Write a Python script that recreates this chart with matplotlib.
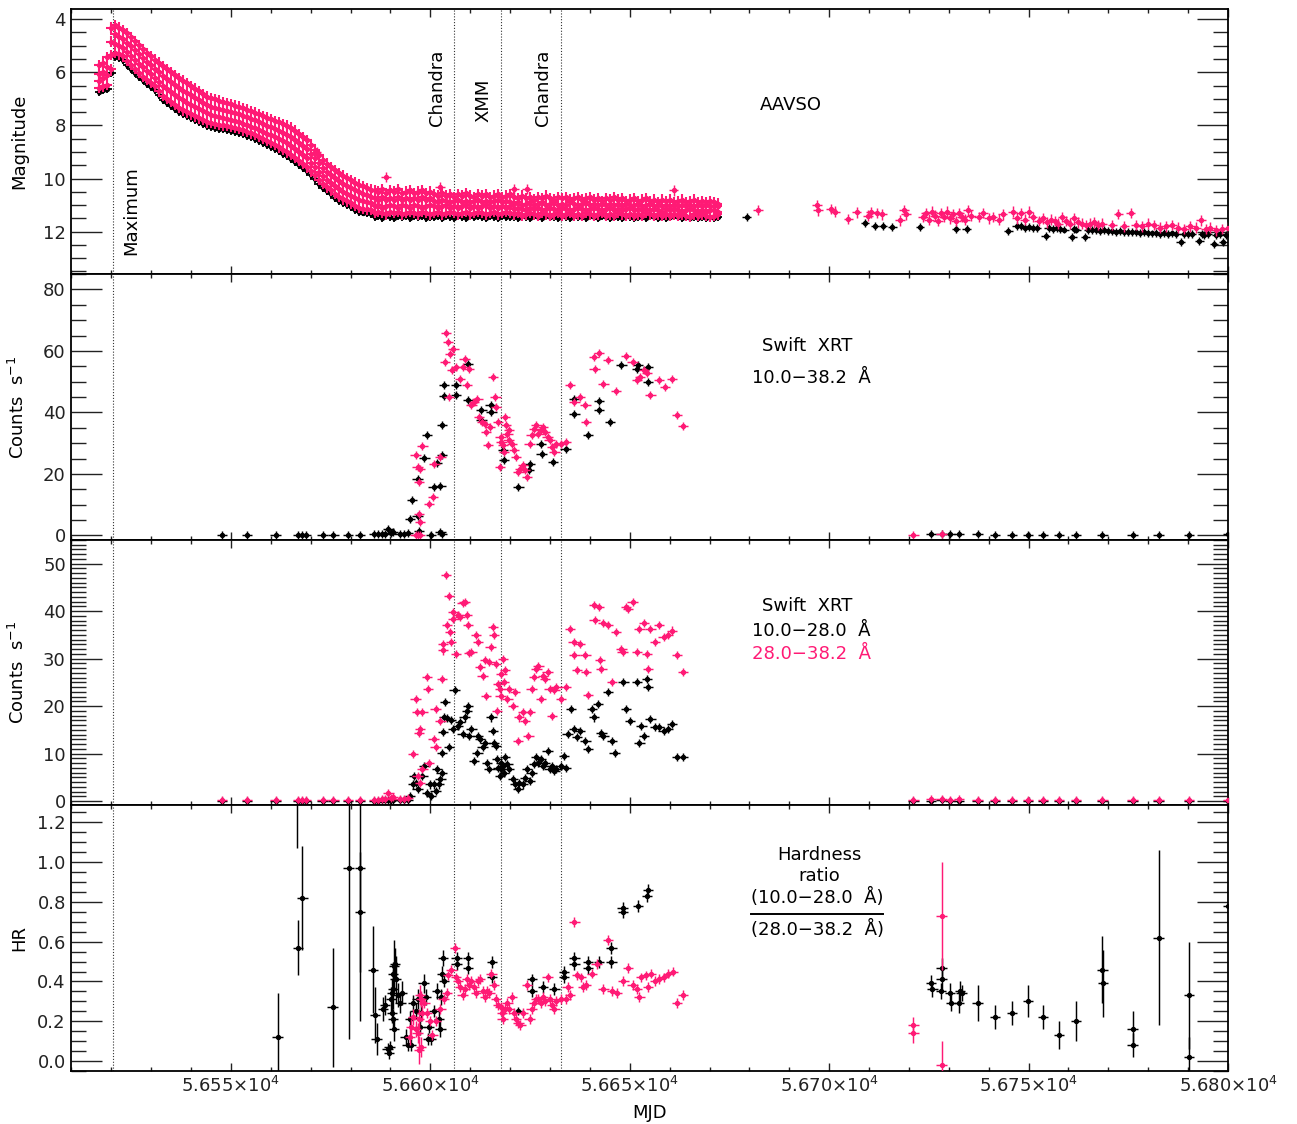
import numpy as np
import matplotlib
matplotlib.use("Agg")
import matplotlib.pyplot as plt
from matplotlib.ticker import MultipleLocator, FuncFormatter, FormatStrFormatter

PINK = "#ff1a75"
BLACK = "#000000"

# ---------------------------------------------------------------- epochs
t_maximum = 56520.5
t_chandra = [56606.0, 56632.7]
t_xmm = 56617.7

# ---------------------------------------------------------------- AAVSO (nightly, dense part)
aavso_mjd = [
    56517, 56518, 56519, 56520, 56521, 56522, 56523, 56524, 56525, 56526,
    56527, 56528, 56529, 56530, 56531, 56532, 56533, 56534, 56535, 56536,
    56537, 56538, 56539, 56540, 56541, 56542, 56543, 56544, 56545, 56546,
    56547, 56548, 56549, 56550, 56551, 56552, 56553, 56554, 56555, 56556,
    56557, 56558, 56559, 56560, 56561, 56562, 56563, 56564, 56565, 56566,
    56567, 56568, 56569, 56570, 56571, 56572, 56573, 56574, 56575, 56576,
    56577, 56578, 56579, 56580, 56581, 56582, 56583, 56584, 56585, 56586,
    56587, 56588, 56589, 56590, 56591, 56592, 56593, 56594, 56595, 56596,
    56597, 56598, 56599, 56600, 56601, 56602, 56603, 56604, 56605, 56606,
    56607, 56608, 56609, 56610, 56611, 56612, 56613, 56614, 56615, 56616,
    56617, 56618, 56619, 56620, 56621, 56622, 56623, 56624, 56625, 56626,
    56627, 56628, 56629, 56630, 56631, 56632, 56633, 56634, 56635, 56636,
    56637, 56638, 56639, 56640, 56641, 56642, 56643, 56644, 56645, 56646,
    56647, 56648, 56649, 56650, 56651, 56652, 56653, 56654, 56655, 56656,
    56657, 56658, 56659, 56660, 56661, 56662, 56663, 56664, 56665, 56666,
    56667, 56668, 56669, 56670, 56671, 56672]

# visual estimates on each night, brightest to faintest quartile
aavso_vis_q1 = [
    5.72, 5.67, 5.42, 4.32, 4.22, 4.32, 4.42, 4.54, 4.67, 4.82,
    4.97, 5.12, 5.27, 5.40, 5.52, 5.64, 5.77, 5.88, 5.99, 6.10,
    6.22, 6.32, 6.42, 6.52, 6.62, 6.72, 6.82, 6.92, 6.97, 7.02,
    7.07, 7.12, 7.17, 7.21, 7.26, 7.30, 7.36, 7.41, 7.47, 7.52,
    7.58, 7.65, 7.71, 7.77, 7.83, 7.89, 7.95, 8.01, 8.08, 8.20,
    8.32, 8.44, 8.56, 8.74, 8.92, 9.12, 9.30, 9.44, 9.56, 9.68,
    9.79, 9.89, 9.98, 10.07, 10.16, 10.23, 10.30, 10.36, 10.42,
    10.45, 10.50, 10.40, 10.55, 10.45, 10.50, 10.40, 10.55, 10.50, 10.45,
    10.55, 10.50, 10.45, 10.55, 10.50,
    10.60, 10.65, 10.55, 10.65, 10.60, 10.70, 10.60, 10.65, 10.55, 10.65,
    10.70, 10.60, 10.65, 10.60, 10.70, 10.65, 10.60, 10.70, 10.65, 10.60,
    10.70, 10.75, 10.65, 10.75, 10.70, 10.80, 10.70, 10.75, 10.65, 10.75,
    10.80, 10.70, 10.75, 10.70, 10.80, 10.75, 10.70, 10.80, 10.75, 10.70,
    10.80, 10.75, 10.85, 10.75, 10.80, 10.70, 10.80, 10.75, 10.85, 10.80,
    10.75, 10.85, 10.80, 10.75, 10.85, 10.80, 10.90, 10.80, 10.85, 10.80,
    10.90, 10.85, 10.80, 10.90, 10.85, 10.80, 10.90, 10.85, 10.90, 10.85,
    10.90, 10.95]
aavso_vis_q2 = [
    6.07, 5.99, 5.80, 4.85, 4.57, 4.67, 4.75, 4.89, 5.02, 5.17,
    5.32, 5.47, 5.61, 5.74, 5.86, 6.00, 6.14, 6.25, 6.36, 6.47,
    6.59, 6.69, 6.78, 6.87, 6.97, 7.06, 7.15, 7.25, 7.29, 7.33,
    7.38, 7.43, 7.47, 7.51, 7.55, 7.59, 7.65, 7.70, 7.76, 7.81,
    7.87, 7.94, 8.01, 8.07, 8.14, 8.21, 8.28, 8.35, 8.42, 8.54,
    8.66, 8.78, 8.90, 9.07, 9.24, 9.43, 9.60, 9.74, 9.86, 9.98,
    10.09, 10.19, 10.28, 10.36, 10.45, 10.52, 10.58, 10.63, 10.68,
    10.75, 10.80, 10.70, 10.80, 10.75, 10.80, 10.70, 10.80, 10.75, 10.80,
    10.75, 10.80, 10.70, 10.80, 10.75,
    10.85, 10.90, 10.80, 10.85, 10.90, 10.85, 10.80, 10.90, 10.85, 10.90,
    10.85, 10.80, 10.90, 10.85, 10.90, 10.85, 10.80, 10.90, 10.85, 10.90,
    10.95, 10.90, 11.00, 10.95, 10.90, 11.00, 10.95, 10.90, 11.00, 10.95,
    10.90, 11.00, 10.95, 11.00, 10.90, 10.95, 11.00, 10.95, 10.90, 11.00,
    10.95, 11.00, 10.95, 11.00, 10.95, 11.00, 10.95, 11.05, 10.95, 11.00,
    11.00, 10.95, 11.05, 11.00, 10.95, 11.05, 11.00, 11.05, 11.00, 11.05,
    11.00, 11.05, 11.00, 11.05, 11.00, 11.05, 11.00, 11.05, 11.00, 11.05,
    11.05, 11.05]
aavso_vis_q3 = [
    6.33, 6.21, 6.10, 5.35, 4.93, 5.03, 5.08, 5.24, 5.38, 5.53,
    5.68, 5.82, 5.95, 6.07, 6.20, 6.35, 6.51, 6.62, 6.74, 6.85,
    6.96, 7.06, 7.15, 7.23, 7.31, 7.39, 7.47, 7.55, 7.61, 7.65,
    7.69, 7.73, 7.77, 7.80, 7.84, 7.88, 7.94, 7.99, 8.05, 8.10,
    8.17, 8.24, 8.31, 8.38, 8.45, 8.53, 8.60, 8.68, 8.76, 8.88,
    9.00, 9.12, 9.24, 9.40, 9.56, 9.74, 9.90, 10.04, 10.16, 10.28,
    10.39, 10.49, 10.57, 10.65, 10.73, 10.81, 10.86, 10.90, 10.94,
    11.05, 11.00, 11.10, 11.05, 11.00, 11.05, 11.10, 11.00, 11.05, 11.10,
    11.00, 11.05, 11.10, 11.05, 11.00,
    11.05, 11.10, 11.05, 11.00, 11.10, 11.05, 11.10, 11.05, 11.00, 11.10,
    11.05, 11.10, 11.05, 11.00, 11.10, 11.05, 11.10, 11.05, 11.10, 11.05,
    11.15, 11.10, 11.15, 11.20, 11.10, 11.15, 11.10, 11.20, 11.15, 11.10,
    11.15, 11.20, 11.10, 11.15, 11.20, 11.15, 11.10, 11.15, 11.20, 11.15,
    11.10, 11.15, 11.20, 11.15, 11.10, 11.20, 11.15, 11.20, 11.15, 11.10,
    11.20, 11.15, 11.20, 11.15, 11.20, 11.15, 11.20, 11.25, 11.15, 11.20,
    11.15, 11.20, 11.25, 11.20, 11.15, 11.20, 11.25, 11.20, 11.25, 11.20,
    11.20, 11.25]
aavso_vis_q4 = [
    6.58, 6.53, 6.48, 5.88, 5.28, 5.33, 5.38, 5.56, 5.73, 5.88,
    6.03, 6.16, 6.28, 6.40, 6.53, 6.70, 6.88, 7.00, 7.12, 7.23,
    7.33, 7.43, 7.51, 7.58, 7.66, 7.73, 7.80, 7.88, 7.91, 7.94,
    7.97, 8.00, 8.03, 8.06, 8.10, 8.13, 8.19, 8.24, 8.30, 8.35,
    8.42, 8.50, 8.58, 8.66, 8.74, 8.83, 8.92, 9.01, 9.10, 9.22,
    9.34, 9.46, 9.58, 9.73, 9.88, 10.04, 10.19, 10.33, 10.45, 10.57,
    10.68, 10.78, 10.86, 10.94, 11.02, 11.10, 11.13, 11.16, 11.19,
    11.30, 11.25, 11.30, 11.35, 11.25, 11.30, 11.25, 11.35, 11.30, 11.25,
    11.30, 11.35, 11.25, 11.30, 11.35,
    11.30, 11.25, 11.35, 11.30, 11.25, 11.30, 11.35, 11.30, 11.25, 11.35,
    11.30, 11.25, 11.30, 11.35, 11.30, 11.25, 11.35, 11.30, 11.25, 11.30,
    11.35, 11.30, 11.40, 11.35, 11.30, 11.35, 11.40, 11.30, 11.35, 11.40,
    11.35, 11.30, 11.40, 11.35, 11.30, 11.40, 11.35, 11.40, 11.30, 11.35,
    11.40, 11.35, 11.30, 11.40, 11.35, 11.40, 11.30, 11.35, 11.40, 11.35,
    11.40, 11.35, 11.40, 11.30, 11.35, 11.40, 11.35, 11.40, 11.35, 11.40,
    11.35, 11.40, 11.35, 11.40, 11.45, 11.35, 11.40, 11.35, 11.40, 11.45,
    11.40, 11.35]
# V-band CCD photometry on the same nights
aavso_ccd = [
    6.73, 6.68, 6.63, 6.03, 5.43, 5.48, 5.53, 5.71, 5.88, 6.03,
    6.18, 6.31, 6.43, 6.55, 6.68, 6.85, 7.03, 7.15, 7.27, 7.38,
    7.48, 7.58, 7.66, 7.73, 7.81, 7.88, 7.95, 8.03, 8.06, 8.09,
    8.12, 8.15, 8.18, 8.21, 8.25, 8.28, 8.34, 8.39, 8.45, 8.50,
    8.57, 8.65, 8.73, 8.81, 8.89, 8.98, 9.07, 9.16, 9.25, 9.37,
    9.49, 9.61, 9.73, 9.88, 10.03, 10.19, 10.34, 10.48, 10.60, 10.72,
    10.83, 10.93, 11.01, 11.09, 11.17, 11.25, 11.28, 11.31, 11.34,
    11.45, 11.40, 11.48, 11.42, 11.45, 11.50, 11.40, 11.46, 11.43, 11.48,
    11.42, 11.46, 11.40, 11.50, 11.44,
    11.45, 11.40, 11.48, 11.42, 11.46, 11.50, 11.40, 11.45, 11.48, 11.42,
    11.45, 11.40, 11.46, 11.50, 11.42, 11.45, 11.48, 11.40, 11.46, 11.44,
    11.45, 11.48, 11.42, 11.46, 11.50, 11.40, 11.45, 11.48, 11.42, 11.46,
    11.44, 11.50, 11.42, 11.45, 11.48, 11.40, 11.46, 11.44, 11.50, 11.42,
    11.45, 11.48, 11.42, 11.46, 11.50, 11.44, 11.45, 11.48, 11.42, 11.46,
    11.50, 11.44, 11.45, 11.48, 11.42, 11.46, 11.50, 11.44, 11.48, 11.45,
    11.42, 11.46, 11.50, 11.44, 11.48, 11.45, 11.50, 11.46, 11.48, 11.45,
    11.50, 11.46]

# isolated visual estimates
aavso_vis_extra_mjd = [56571.5, 56588.9, 56602.4, 56621.1, 56624.3, 56661.0]
aavso_vis_extra_mag = [9.00, 9.95, 10.33, 10.40, 10.40, 10.45]

# sparse coverage after the seasonal gap
aavso_vis_late_mjd = [
    56682.2, 56696.9, 56697.2, 56700.5, 56701.5, 56704.8, 56706.9, 56709.8, 56710.5, 56712.0,
    56713.2, 56717.8, 56718.8, 56719.2, 56723.5, 56724.2, 56725.0, 56725.8, 56726.5, 56727.3,
    56728.0, 56728.8, 56729.6, 56730.3, 56731.0, 56731.8, 56732.5, 56733.3, 56734.0, 56734.8,
    56735.5, 56737.5, 56738.5, 56740.0, 56741.0, 56742.5, 56743.5, 56746.0, 56747.0, 56748.0,
    56749.0, 56750.0, 56751.0, 56752.5, 56753.5, 56754.5, 56755.5, 56756.5, 56757.5, 56758.5,
    56759.5, 56760.5, 56761.5, 56762.5, 56763.5, 56764.5, 56765.5, 56766.5, 56767.5, 56768.5,
    56771.0, 56772.5, 56774.0, 56775.6, 56777.0, 56778.5, 56780.0, 56781.5, 56783.0, 56784.5,
    56786.0, 56787.5, 56789.0, 56790.5, 56792.0, 56793.3, 56794.5, 56795.5, 56797.0, 56798.5,
    56800.0]
aavso_vis_late_mag = [
    11.18, 11.00, 11.20, 11.15, 11.25, 11.52, 11.27, 11.40, 11.27, 11.30,
    11.35, 11.58, 11.20, 11.35, 11.45, 11.30, 11.55, 11.25, 11.40, 11.60,
    11.30, 11.45, 11.25, 11.50, 11.35, 11.60, 11.30, 11.45, 11.55, 11.20,
    11.40, 11.45, 11.30, 11.50, 11.45, 11.55, 11.35, 11.25, 11.50, 11.30,
    11.55, 11.25, 11.45, 11.60, 11.50, 11.65, 11.55, 11.60, 11.70, 11.45,
    11.60, 11.70, 11.50, 11.65, 11.70, 11.75, 11.70, 11.65, 11.75, 11.70,
    11.75, 11.33, 11.80, 11.30, 11.75, 11.80, 11.70, 11.75, 11.85, 11.80,
    11.75, 11.85, 11.90, 11.80, 11.85, 11.58, 11.90, 11.85, 11.95, 11.90,
    11.85]
aavso_ccd_late_mjd = [
    56679.3, 56709.0, 56711.5, 56713.5, 56715.8, 56722.8, 56731.8, 56734.5, 56744.9, 56747.0,
    56748.0, 56749.0, 56750.0, 56751.0, 56752.0, 56754.3, 56755.0, 56756.0, 56757.0, 56758.0,
    56759.0, 56761.0, 56761.5, 56762.0, 56764.2, 56765.0, 56766.0, 56767.0, 56768.0, 56769.0,
    56770.0, 56771.0, 56772.0, 56773.0, 56774.0, 56775.0, 56776.0, 56777.0, 56778.0, 56779.0,
    56780.0, 56781.0, 56782.0, 56783.0, 56784.0, 56785.0, 56786.0, 56787.0, 56788.1, 56789.0,
    56790.0, 56791.0, 56792.8, 56793.5, 56794.0, 56795.0, 56796.5, 56797.0, 56798.0, 56798.8,
    56799.5]
aavso_ccd_late_mag = [
    11.46, 11.69, 11.80, 11.80, 11.84, 11.84, 11.90, 11.90, 11.96, 11.78,
    11.80, 11.85, 11.82, 11.87, 11.85, 12.15, 11.88, 11.90, 11.87, 11.90,
    11.92, 12.20, 11.90, 11.92, 12.22, 11.95, 11.93, 11.95, 11.97, 11.95,
    11.98, 11.96, 12.00, 11.98, 12.00, 12.02, 12.00, 12.02, 12.05, 12.03,
    12.05, 12.07, 12.05, 12.08, 12.06, 12.08, 12.07, 12.10, 12.40, 12.08,
    12.10, 12.08, 12.35, 12.10, 12.12, 12.10, 12.45, 12.12, 12.10, 12.40,
    12.12]

# ---------------------------------------------------------------- Swift XRT, faint epochs
xrt_early_mjd = [56547.7, 56554.0, 56561.2, 56566.8, 56567.7, 56568.9, 56573.0, 56575.7,
                 56579.4, 56582.3, 56585.9, 56587.0, 56587.9, 56588.6, 56589.5, 56590.2,
                 56590.7, 56592.3, 56593.5, 56594.3]
xrt_late_mjd = [56721.1, 56725.6, 56728.2, 56730.3, 56732.6, 56737.2, 56741.5, 56745.9,
                56749.8, 56753.6, 56757.6, 56761.9, 56768.5, 56776.1, 56782.6, 56790.2,
                56800.0]
total_early_rate = [0.2, 0.2, 0.3, 0.3, 0.2, 0.2, 0.2, 0.3, 0.3, 0.3,
                    0.4, 0.4, 0.5, 0.6, 2.0, 0.9, 1.0, 0.6, 0.5, 0.8]
total_late_rate = [0.3, 0.5, 0.6, 0.4, 0.5, 0.4, 0.3, 0.3, 0.3, 0.3,
                   0.2, 0.3, 0.3, 0.3, 0.2, 0.2, 0.4]
soft_early_rate = [0.2, 0.2, 0.2, 0.3, 0.2, 0.2, 0.2, 0.2, 0.3, 0.2,
                   0.3, 0.3, 0.4, 0.5, 1.8, 0.7, 0.8, 0.5, 0.4, 0.6]
soft_late_rate = [0.3, 0.4, 0.5, 0.3, 0.4, 0.3, 0.3, 0.2, 0.2, 0.2,
                  0.2, 0.2, 0.2, 0.2, 0.2, 0.2, 0.3]
hard_early_rate = [0.1, 0.1, 0.1, 0.1, 0.1, 0.1, 0.1, 0.1, 0.1, 0.1,
                   0.1, 0.1, 0.2, 0.2, 0.3, 0.3, 0.3, 0.2, 0.2, 0.3]
hard_late_rate = [0.1, 0.1, 0.2, 0.1, 0.1, 0.1, 0.1, 0.1, 0.1, 0.1,
                  0.1, 0.1, 0.1, 0.1, 0.1, 0.1, 0.1]

# ---------------------------------------------------------------- Swift XRT 10.0-38.2 A
total_a_mjd = [
    56594.9, 56595.4, 56596.8, 56598.5, 56599.1, 56596.8, 56597.2, 56600.2, 56600.8, 56601.7,
    56602.5, 56603.0, 56603.0, 56603.4, 56603.4, 56602.5, 56603.0, 56606.4, 56606.4, 56609.5,
    56609.5, 56612.8, 56612.8, 56615.3, 56615.1, 56618.5, 56618.2, 56622.1, 56624.9, 56624.7,
    56627.7, 56627.9, 56630.8, 56633.9, 56636.1, 56636.1, 56639.5, 56642.3, 56642.3, 56645.1,
    56647.9, 56651.8, 56652.1, 56654.6, 56654.6]
total_a_rate = [
    5.4, 11.6, 18.5, 25.2, 32.8, 6.3, 1.6, 0.0, 15.7, 23.6,
    16.0, 26.1, 35.8, 48.9, 45.3, 1.1, 0.5, 48.9, 45.6, 44.0,
    55.9, 40.9, 37.5, 40.2, 42.3, 24.4, 27.7, 15.7, 23.3, 21.2,
    29.9, 26.6, 23.9, 28.2, 39.6, 44.5, 32.8, 43.6, 40.7, 36.9,
    55.4, 54.3, 55.4, 54.8, 49.9]
total_b_mjd = [
    56596.3, 56596.8, 56597.4, 56597.2, 56597.4, 56596.8, 56596.3, 56597.4, 56597.2, 56598.0,
    56599.7, 56600.6, 56601.0, 56602.5, 56603.9, 56604.5, 56603.6, 56605.0, 56605.8, 56605.5,
    56604.7, 56606.4, 56607.5, 56608.1, 56608.6, 56609.2, 56609.7, 56610.3, 56610.9, 56611.8,
    56612.2, 56612.9, 56613.7, 56614.0, 56614.5, 56615.0, 56615.7, 56616.3, 56616.5, 56617.0,
    56617.4, 56617.6, 56617.8, 56618.2, 56618.5, 56618.7, 56619.0, 56619.3, 56619.6, 56619.8,
    56620.4, 56621.0, 56621.5, 56622.1, 56622.6, 56623.2, 56623.8, 56624.3, 56624.9, 56625.4,
    56626.0, 56626.6, 56627.1, 56627.7, 56628.2, 56628.8, 56629.4, 56629.9, 56630.5, 56631.1,
    56631.6, 56632.7, 56633.9, 56635.0, 56636.1, 56637.6, 56638.9, 56639.1, 56641.0, 56641.2,
    56642.3, 56643.4, 56644.5, 56646.5, 56649.0, 56650.7, 56651.8, 56652.6, 56653.5, 56654.4,
    56655.2, 56657.4, 56658.9, 56660.6, 56661.9, 56663.4, 56721.1, 56728.2]
total_b_rate = [
    0.0, 0.0, 0.0, 7.1, 4.3, 22.3, 26.1, 21.5, 17.4, 29.0,
    10.3, 12.5, 23.1, 25.5, 66.0, 63.0, 56.5, 59.0, 60.8, 53.7,
    45.1, 54.8, 51.0, 54.8, 57.5, 48.9, 54.3, 42.3, 43.4, 44.5,
    38.5, 36.9, 36.4, 33.7, 29.3, 35.3, 51.6, 45.1, 41.8, 36.9,
    22.3, 32.0, 30.4, 29.3, 27.1, 38.5, 35.8, 33.1, 30.9, 34.2,
    29.9, 27.7, 25.5, 20.6, 21.7, 22.8, 21.2, 19.0, 29.9, 32.6,
    34.7, 35.8, 33.1, 34.2, 35.3, 33.7, 32.0, 30.9, 28.8, 27.1,
    29.9, 29.9, 30.4, 48.9, 43.4, 45.1, 42.3, 36.9, 58.1, 54.3,
    59.2, 49.4, 57.2, 47.0, 58.3, 56.5, 50.5, 51.6, 53.7, 52.7,
    45.6, 50.5, 48.3, 51.0, 39.1, 35.5, 0.3, 0.4]

# ---------------------------------------------------------------- Swift XRT two bands
hard_mjd = [
    56594.9, 56595.7, 56596.0, 56596.5, 56596.8, 56598.0, 56598.5, 56599.1, 56599.9, 56600.2,
    56600.8, 56601.3, 56601.7, 56602.2, 56602.5, 56602.8, 56603.0, 56603.2, 56603.6, 56603.4,
    56604.1, 56605.2, 56606.1, 56604.7, 56605.8, 56606.9, 56607.5, 56608.1, 56608.6, 56609.2,
    56609.5, 56609.7, 56610.3, 56610.9, 56611.8, 56612.0, 56612.5, 56613.1, 56613.7, 56614.2,
    56614.8, 56615.3, 56615.7, 56615.9, 56616.5, 56616.7, 56617.0, 56617.4, 56617.6, 56617.8,
    56618.2, 56618.5, 56618.7, 56619.3, 56619.8, 56620.7, 56621.2, 56621.9, 56622.3, 56623.2,
    56623.8, 56624.3, 56624.9, 56625.4, 56626.0, 56626.6, 56627.1, 56627.7, 56628.2, 56628.8,
    56629.4, 56629.9, 56630.5, 56631.1, 56631.6, 56632.7, 56633.5, 56633.9, 56634.4, 56635.3,
    56636.1, 56636.7, 56637.6, 56638.9, 56639.5, 56640.6, 56641.0, 56642.1, 56642.9, 56643.4,
    56644.5, 56645.6, 56646.2, 56648.4, 56649.0, 56650.1, 56651.8, 56652.4, 56652.9, 56653.5,
    56654.4, 56654.6, 56655.2, 56656.3, 56657.4, 56658.5, 56659.6, 56660.6, 56661.9, 56663.4]
hard_rate = [
    1.1, 3.5, 5.3, 3.9, 2.5, 5.3, 7.4, 1.8, 3.5, 1.1,
    3.5, 2.1, 6.7, 3.5, 4.6, 6.0, 10.2, 14.6, 20.8, 17.6,
    17.4, 17.1, 23.3, 11.3, 15.2, 15.9, 16.6, 14.1, 17.6, 19.0,
    20.1, 13.7, 15.2, 8.5, 10.2, 13.7, 13.0, 11.3, 12.3, 8.1,
    6.7, 17.6, 14.8, 12.3, 11.6, 8.8, 7.0, 5.3, 6.7, 8.1,
    7.4, 6.0, 9.2, 7.8, 6.7, 4.6, 3.5, 2.5, 3.9, 3.5,
    4.9, 6.7, 4.2, 6.0, 7.8, 9.2, 8.1, 8.8, 7.4, 8.1,
    10.6, 6.7, 7.4, 6.3, 6.7, 7.4, 9.5, 7.0, 14.1, 19.4,
    15.2, 13.4, 14.8, 12.7, 10.9, 19.4, 17.6, 20.4, 14.4, 13.7,
    22.9, 12.7, 10.2, 25.0, 19.4, 16.9, 25.0, 12.3, 15.9, 13.7,
    25.7, 24.0, 17.3, 15.5, 15.5, 14.8, 15.2, 16.2, 9.2, 9.2]
soft_mjd = [
    56595.7, 56596.3, 56596.6, 56597.4, 56597.2, 56598.0, 56599.1, 56599.4, 56596.8, 56597.4,
    56598.0, 56599.7, 56600.8, 56601.3, 56601.3, 56602.5, 56603.0, 56603.2, 56603.2, 56603.9,
    56604.7, 56604.1, 56605.2, 56605.0, 56605.8, 56605.8, 56606.4, 56606.9, 56607.5, 56608.1,
    56608.6, 56609.2, 56609.5, 56609.7, 56610.3, 56611.4, 56612.0, 56612.5, 56613.1, 56613.7,
    56614.0, 56614.8, 56615.1, 56615.7, 56615.9, 56616.5, 56616.7, 56617.0, 56617.4, 56617.6,
    56617.8, 56618.2, 56618.5, 56618.7, 56619.3, 56619.8, 56620.7, 56621.2, 56621.9, 56622.3,
    56623.2, 56623.8, 56624.6, 56624.9, 56625.4, 56626.0, 56626.6, 56627.1, 56627.7, 56628.2,
    56628.8, 56629.4, 56629.9, 56630.5, 56631.1, 56631.6, 56632.7, 56633.9, 56635.0, 56635.9,
    56636.1, 56636.7, 56637.6, 56638.9, 56639.1, 56639.5, 56641.0, 56642.3, 56641.2, 56642.5,
    56642.9, 56643.4, 56644.5, 56645.6, 56646.5, 56647.9, 56648.2, 56649.0, 56649.6, 56650.7,
    56651.8, 56652.4, 56653.5, 56654.4, 56654.6, 56655.2, 56656.3, 56657.4, 56658.5, 56659.6,
    56660.6, 56661.9, 56663.4]
soft_rate = [
    9.9, 21.5, 18.8, 15.2, 14.4, 18.7, 26.1, 23.6, 5.3, 3.9,
    6.7, 8.1, 13.0, 11.3, 19.4, 16.9, 25.7, 33.1, 31.7, 47.6,
    43.1, 37.0, 33.5, 35.6, 39.8, 38.4, 31.0, 39.1, 38.8, 41.6,
    41.9, 39.1, 37.0, 31.2, 31.4, 34.9, 33.5, 28.2, 26.4, 29.6,
    22.2, 29.2, 32.4, 36.6, 34.9, 28.9, 19.0, 24.7, 23.6, 22.2,
    26.8, 29.9, 25.0, 27.5, 21.5, 23.6, 20.1, 22.9, 12.7, 17.6,
    18.7, 16.9, 13.7, 18.7, 23.6, 26.1, 27.8, 28.5, 21.5, 26.4,
    25.7, 27.1, 23.6, 18.0, 23.3, 24.0, 21.5, 24.0, 36.3, 33.5,
    30.7, 27.5, 33.1, 30.7, 27.1, 22.3, 41.2, 40.9, 38.1, 29.6,
    27.8, 37.4, 37.0, 25.0, 35.6, 32.1, 31.4, 40.9, 40.5, 41.9,
    31.4, 36.3, 37.4, 31.0, 27.8, 36.3, 33.5, 37.0, 34.5, 34.9,
    35.9, 30.7, 27.1]

# ---------------------------------------------------------------- hardness ratio
hr_hard_mjd = [
    56561.7, 56566.6, 56566.8, 56567.9, 56575.5, 56579.5, 56582.4, 56582.4, 56585.7, 56586.2,
    56586.5, 56588.1, 56588.7, 56589.3, 56589.6, 56589.8, 56590.2, 56590.5, 56590.7, 56590.7,
    56590.9, 56591.1, 56590.4, 56590.7, 56590.9, 56591.3, 56591.8, 56592.5, 56592.9, 56593.8,
    56594.3, 56594.9, 56595.2, 56595.7, 56596.3, 56596.8, 56597.4, 56597.7, 56598.3, 56598.8,
    56599.4, 56599.7, 56600.2, 56601.0, 56601.6, 56602.2, 56602.5, 56602.7, 56603.0, 56603.2,
    56603.5, 56606.6, 56606.6, 56609.5, 56609.5, 56615.4, 56615.4, 56622.1, 56625.5, 56625.5,
    56628.3, 56631.1, 56633.5, 56633.5, 56636.1, 56636.1, 56639.6, 56639.6, 56642.3, 56645.4,
    56645.4, 56648.2, 56648.3, 56652.1, 56654.4, 56654.6,
    56725.6, 56725.9, 56728.2, 56728.2, 56728.0, 56730.3, 56730.5, 56732.6, 56732.8, 56733.2,
    56737.2, 56741.5, 56745.9, 56749.8, 56753.6, 56757.6, 56761.9, 56768.5, 56768.6, 56776.1,
    56776.1, 56782.6, 56790.2, 56790.2, 56800.0]
hr_hard = [
    0.12, 1.45, 0.57, 0.82, 0.27, 0.97, 0.97, 0.75, 0.46, 0.23,
    0.11, 0.26, 0.28, 0.06, 0.04, 0.07, 0.31, 0.34, 0.36, 0.44,
    0.48, 0.49, 0.24, 0.21, 0.16, 0.41, 0.33, 0.29, 0.34, 0.12,
    0.08, 0.21, 0.08, 0.29, 0.25, 0.31, 0.17, 0.24, 0.39, 0.32,
    0.11, 0.17, 0.11, 0.25, 0.35, 0.21, 0.16, 0.32, 0.44, 0.52,
    0.40, 0.52, 0.49, 0.52, 0.47, 0.50, 0.42, 0.25, 0.41, 0.35,
    0.37, 0.36, 0.45, 0.42, 0.52, 0.49, 0.50, 0.47, 0.50, 0.57,
    0.50, 0.77, 0.75, 0.78, 0.83, 0.86,
    0.39, 0.36, 0.47, 0.41, 0.35, 0.34, 0.29, 0.29, 0.35, 0.34,
    0.29, 0.22, 0.24, 0.30, 0.22, 0.13, 0.20, 0.46, 0.39, 0.16,
    0.08, 0.62, 0.33, 0.02, 0.78]
hr_hard_err = [
    0.22, 0.38, 0.14, 0.26, 0.30, 0.86, 0.77, 0.30, 0.22, 0.14,
    0.08, 0.06, 0.05, 0.03, 0.03, 0.03, 0.06, 0.07, 0.10, 0.06,
    0.13, 0.08, 0.05, 0.05, 0.06, 0.12, 0.06, 0.05, 0.06, 0.04,
    0.03, 0.04, 0.03, 0.04, 0.04, 0.05, 0.04, 0.04, 0.05, 0.04,
    0.03, 0.03, 0.03, 0.03, 0.04, 0.04, 0.04, 0.04, 0.04, 0.04,
    0.03, 0.03, 0.03, 0.03, 0.03, 0.03, 0.03, 0.02, 0.03, 0.03,
    0.03, 0.03, 0.03, 0.03, 0.03, 0.03, 0.03, 0.03, 0.03, 0.03,
    0.03, 0.03, 0.03, 0.03, 0.03, 0.03,
    0.04, 0.04, 0.05, 0.06, 0.04, 0.05, 0.04, 0.05, 0.05, 0.04,
    0.09, 0.06, 0.06, 0.08, 0.06, 0.07, 0.10, 0.17, 0.17, 0.09,
    0.06, 0.44, 0.27, 0.10, 0.10]
hr_soft_mjd = [
    56597.4, 56597.6, 56598.0, 56597.1, 56596.8, 56597.1, 56597.6, 56594.9, 56595.2, 56595.7,
    56596.3, 56598.5, 56599.1, 56599.9, 56600.5, 56601.3, 56602.5, 56603.3, 56604.1, 56604.5,
    56605.3, 56606.2, 56606.4, 56607.0, 56607.5, 56608.1, 56608.6, 56609.2, 56609.7, 56610.3,
    56610.9, 56611.4, 56612.0, 56612.5, 56613.1, 56613.7, 56614.2, 56614.8, 56615.3, 56615.9,
    56616.5, 56617.0, 56617.6, 56617.9, 56618.1, 56618.7, 56619.3, 56619.8, 56620.4, 56621.0,
    56621.5, 56622.1, 56622.6, 56623.2, 56624.3, 56624.9, 56625.4, 56626.0, 56626.6, 56627.1,
    56627.7, 56628.2, 56628.8, 56629.4, 56629.9, 56630.5, 56631.1, 56631.6, 56632.7, 56633.9,
    56634.4, 56635.0, 56636.1, 56636.7, 56637.8, 56638.3, 56639.1, 56640.6, 56641.7, 56643.4,
    56644.5, 56645.6, 56646.8, 56648.4, 56649.6, 56650.7, 56651.8, 56652.4, 56652.9, 56654.1,
    56654.6, 56655.4, 56656.3, 56657.4, 56658.5, 56659.6, 56660.8, 56661.9, 56663.4,
    56721.1, 56721.1, 56728.2, 56728.2]
hr_soft = [
    0.33, 0.31, 0.24, 0.21, 0.14, 0.055, 0.07, 0.12, 0.17, 0.22,
    0.16, 0.29, 0.24, 0.20, 0.13, 0.20, 0.26, 0.31, 0.34, 0.43,
    0.46, 0.57, 0.42, 0.40, 0.37, 0.33, 0.36, 0.41, 0.38, 0.40,
    0.37, 0.34, 0.40, 0.41, 0.35, 0.32, 0.35, 0.34, 0.44, 0.38,
    0.31, 0.28, 0.27, 0.24, 0.21, 0.26, 0.29, 0.26, 0.32, 0.24,
    0.21, 0.19, 0.18, 0.24, 0.38, 0.21, 0.26, 0.29, 0.31, 0.31,
    0.29, 0.32, 0.30, 0.42, 0.31, 0.28, 0.26, 0.30, 0.31, 0.31,
    0.37, 0.33, 0.70, 0.43, 0.42, 0.37, 0.38, 0.44, 0.49, 0.36,
    0.61, 0.35, 0.34, 0.40, 0.47, 0.38, 0.36, 0.32, 0.42, 0.43,
    0.37, 0.44, 0.40, 0.41, 0.42, 0.44, 0.45, 0.29, 0.33,
    0.18, 0.14, 0.73, -0.02]
hr_soft_err_typical = 0.025
hr_soft_err_first = [0.05, 0.04, 0.04, 0.05, 0.05, 0.07, 0.05, 0.04, 0.04, 0.04, 0.04]
hr_soft_err_last = [0.04, 0.05, 0.27, 0.12]

# ---------------------------------------------------------------- drawing
fig = plt.figure(figsize=(12.97, 11.24), dpi=100)
FW, FH = 1297.0, 1124.0
left_px, right_px = 71.4, 1228.0
top_px, bottom_px = 8.5, 1071.0
panel_h = (bottom_px - top_px) / 4.0

axes = []
for i in range(4):
    y_top = top_px + i * panel_h
    ax = fig.add_axes([left_px / FW, 1 - (y_top + panel_h) / FH,
                       (right_px - left_px) / FW, panel_h / FH])
    axes.append(ax)
ax1, ax2, ax3, ax4 = axes


def points(ax, x, y, xerr, yerr, color, z, ms=2.8, lw=1.05):
    ax.errorbar(x, y, xerr=xerr, yerr=yerr, fmt="o", ms=ms, mfc=color, mec=color,
                ecolor=color, elinewidth=lw, capsize=0, zorder=z)


def xticklabel(v, pos):
    return "%.3f" % (v / 1e4) + r"$\times$10$^{4}$"


for ax in axes:
    ax.set_xlim(56510, 56800)
    ax.xaxis.set_major_locator(MultipleLocator(50))
    ax.xaxis.set_minor_locator(MultipleLocator(10))
    ax.tick_params(which="both", direction="in", top=True, right=True,
                   width=1.0, labelsize=13, colors="#222222")
    ax.tick_params(axis="x", which="major", length=6)
    ax.tick_params(axis="x", which="minor", length=3)
    ax.tick_params(axis="y", which="major", length=22, pad=4)
    ax.tick_params(axis="y", which="minor", length=11)
    for s in ax.spines.values():
        s.set_linewidth(1.3)
    for t in [t_maximum, t_chandra[0], t_xmm, t_chandra[1]]:
        ax.axvline(t, color="#333333", lw=0.8, ls=(0, (1, 1.6)), zorder=1)
    ax.yaxis.set_label_coords(-0.0375, 0.5)

for ax in axes[:3]:
    ax.tick_params(labelbottom=False)
ax4.xaxis.set_major_formatter(FuncFormatter(xticklabel))

# panel 1: optical light curve
points(ax1, aavso_mjd, aavso_ccd, 1.1, 0.15, BLACK, 2, lw=1.3)
points(ax1, aavso_ccd_late_mjd, aavso_ccd_late_mag, 1.1, 0.15, BLACK, 2)
for mags in (aavso_vis_q4, aavso_vis_q3, aavso_vis_q2, aavso_vis_q1):
    points(ax1, aavso_mjd, mags, 1.25, 0.2, PINK, 3, lw=1.5)
points(ax1, aavso_vis_extra_mjd, aavso_vis_extra_mag, 1.2, 0.2, PINK, 3)
points(ax1, aavso_vis_late_mjd, aavso_vis_late_mag, 1.2, 0.2, PINK, 3)
ax1.set_ylim(13.6, 3.6)
ax1.yaxis.set_major_locator(MultipleLocator(2))
ax1.yaxis.set_minor_locator(MultipleLocator(0.5))
ax1.set_ylabel("Magnitude", fontsize=13)
ax1.text(56690.5, 7.25, "AAVSO", fontsize=13, ha="center", va="center")
ax1.text(t_maximum + 2.2, 11.2, "Maximum", rotation=90, fontsize=13, ha="left", va="center")
ax1.text(t_chandra[0] - 2.2, 6.6, "Chandra", rotation=90, fontsize=13, ha="right", va="center")
ax1.text(t_xmm - 2.2, 7.06, "XMM", rotation=90, fontsize=13, ha="right", va="center")
ax1.text(t_chandra[1] - 2.2, 6.6, "Chandra", rotation=90, fontsize=13, ha="right", va="center")

# panel 2: total count rate
points(ax2, xrt_early_mjd + total_a_mjd + xrt_late_mjd[1:],
       total_early_rate + total_a_rate + total_late_rate[1:], 1.3, 1.3, BLACK, 2)
points(ax2, total_b_mjd, total_b_rate, 1.3, 1.3, PINK, 3)
ax2.set_ylim(-1.4, 85)
ax2.yaxis.set_major_locator(MultipleLocator(20))
ax2.yaxis.set_minor_locator(MultipleLocator(5))
ax2.set_ylabel(r"Counts  s$^{-1}$", fontsize=13)
ax2.text(56694.5, 61.6, "Swift  XRT", fontsize=13, ha="center", va="center")
ax2.text(56695.5, 51.1, "10.0\u221238.2  \u00c5", fontsize=13, ha="center", va="center")

# panel 3: hard and soft band rates
points(ax3, xrt_early_mjd + hard_mjd + xrt_late_mjd,
       hard_early_rate + hard_rate + hard_late_rate, 1.3, 0.85, BLACK, 2)
points(ax3, xrt_early_mjd + soft_mjd + xrt_late_mjd,
       soft_early_rate + soft_rate + soft_late_rate, 1.3, 0.85, PINK, 3)
ax3.set_ylim(-0.9, 55)
ax3.yaxis.set_major_locator(MultipleLocator(10))
ax3.yaxis.set_minor_locator(MultipleLocator(1))
ax3.set_ylabel(r"Counts  s$^{-1}$", fontsize=13)
ax3.text(56694.5, 41.0, "Swift  XRT", fontsize=13, ha="center", va="center")
ax3.text(56695.5, 35.7, "10.0\u221228.0  \u00c5", fontsize=13, ha="center", va="center")
ax3.text(56695.5, 30.9, "28.0\u221238.2  \u00c5", fontsize=13, ha="center", va="center",
         color=PINK)

# panel 4: hardness ratio
hr_soft_err = np.full(len(hr_soft), hr_soft_err_typical)
hr_soft_err[:len(hr_soft_err_first)] = hr_soft_err_first
hr_soft_err[-len(hr_soft_err_last):] = hr_soft_err_last
points(ax4, hr_hard_mjd, hr_hard, 1.3, hr_hard_err, BLACK, 2)
points(ax4, hr_soft_mjd, hr_soft, 1.3, hr_soft_err, PINK, 3)
ax4.set_ylim(-0.05, 1.285)
ax4.yaxis.set_major_locator(MultipleLocator(0.2))
ax4.yaxis.set_minor_locator(MultipleLocator(0.05))
ax4.yaxis.set_major_formatter(FormatStrFormatter("%.1f"))
ax4.set_ylabel("HR", fontsize=13)
ax4.text(56697.5, 1.035, "Hardness", fontsize=13, ha="center", va="center")
ax4.text(56697.5, 0.93, "ratio", fontsize=13, ha="center", va="center")
ax4.text(56697.0, 0.824, "(10.0\u221228.0  \u00c5)", fontsize=13, ha="center", va="center")
ax4.plot([56680.4, 56713.6], [0.739, 0.739], color="k", lw=1.4)
ax4.text(56697.0, 0.663, "(28.0\u221238.2  \u00c5)", fontsize=13, ha="center", va="center")

fig.text(650 / FW, 1 - 1113 / FH, "MJD", fontsize=13, ha="center", va="center")

fig.savefig("out.png", dpi=100)
